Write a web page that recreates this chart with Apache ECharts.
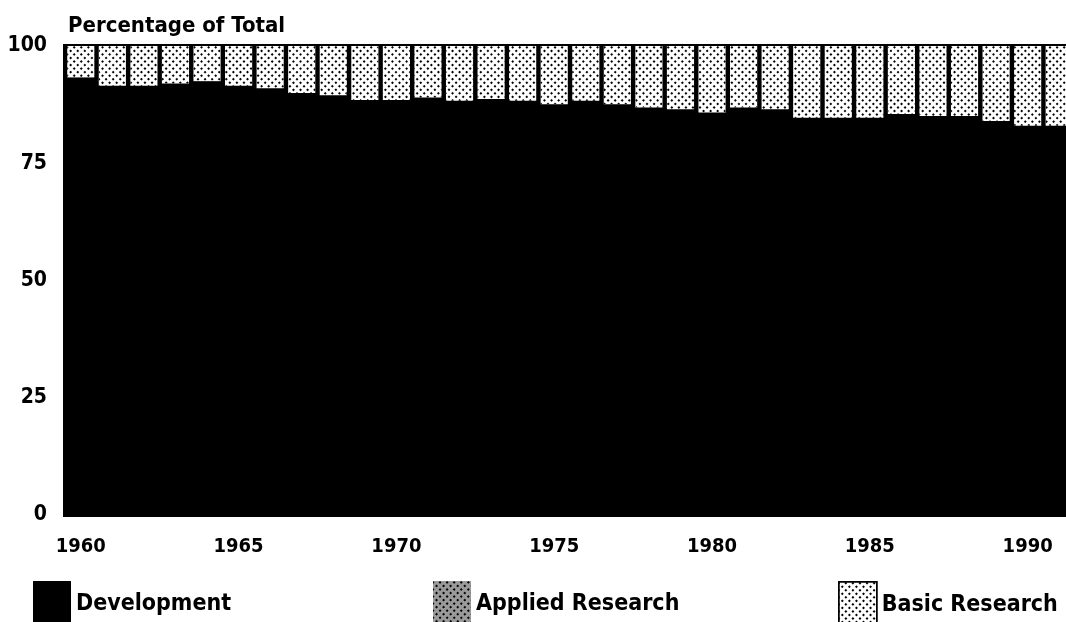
<!DOCTYPE html>
<html>
<head>
<meta charset="utf-8">
<script src="https://cdn.jsdelivr.net/npm/echarts@6/dist/echarts.min.js"></script>
<style>
  html, body { margin: 0; padding: 0; background: #ffffff; overflow: hidden; }
  /* a bit wider than the window: the last bar is cut off at the right edge */
  #chart { width: 1090px; height: 622px; }
</style>
</head>
<body>
<div id="chart"></div>
<script>
  // years on the x axis
  var years = ['1960','1961','1962','1963','1964','1965','1966','1967','1968','1969',
               '1970','1971','1972','1973','1974','1975','1976','1977','1978','1979',
               '1980','1981','1982','1983','1984','1985','1986','1987','1988','1989',
               '1990','1991'];
  var xLabels = ['1960','1965','1970','1975','1980','1985','1990'];
  var yTicks = [0, 25, 50, 75, 100];

  // percentage of total
  var development = [93.3, 91.5, 91.5, 92.0, 92.5, 91.5, 91.0, 90.0, 89.5, 88.5,
                     88.5, 89.0, 88.3, 88.7, 88.3, 87.6, 88.3, 87.6, 86.9, 86.5,
                     85.8, 86.9, 86.5, 84.7, 84.7, 84.7, 85.5, 85.1, 85.1, 84.0,
                     83.0, 83.0];
  var appliedResearch = [];   // not distinguishable from development in the scan
  var basicResearch = [6.7, 8.5, 8.5, 8.0, 7.5, 8.5, 9.0, 10.0, 10.5, 11.5,
                       11.5, 11.0, 11.7, 11.3, 11.7, 12.4, 11.7, 12.4, 13.1, 13.5,
                       14.2, 13.1, 13.5, 15.3, 15.3, 15.3, 14.5, 14.9, 14.9, 16.0,
                       17.0, 17.0];

  // halftone look of the light bars
  var stipple = {
    symbol: 'rect',
    symbolSize: 1,
    color: '#000',
    dashArrayX: [2, 3],
    dashArrayY: [2, 3],
    rotation: Math.PI / 4
  };

  var font = '"Liberation Sans Narrow", "DejaVu Sans Condensed", "Open Sans", sans-serif';
  var textBase = { color: '#000', fontFamily: font, fontWeight: 'bold' };

  var myChart = echarts.init(document.getElementById('chart'));
  var option = {
    animation: false,
    backgroundColor: '#ffffff',
    title: {
      text: 'Percentage of Total',
      left: 63,
      top: 10,
      textStyle: Object.assign({ fontSize: 22 }, textBase)
    },
    legend: [
      { data: [{ name: 'Development', itemStyle: { color: '#000' } }],
        left: 28, top: 576 },
      { data: [{ name: 'Applied Research', itemStyle: { color: '#9a9a9a', decal: stipple } }],
        left: 428, top: 576 },
      { data: [{ name: 'Basic Research', itemStyle: { color: '#fff', borderColor: '#000', borderWidth: 1.5 } }],
        left: 833, top: 576 }
    ].map(function (l) {
      l.icon = 'rect';
      l.itemWidth = 38;
      l.itemHeight = 46;
      l.itemGap = 0;
      l.itemStyle = {};
      l.selectedMode = false;
      l.textStyle = Object.assign({ fontSize: 23, padding: [16, 0, 0, 0] }, textBase);
      return l;
    }),
    grid: {
      left: 65,
      width: 1010,
      top: 46,
      bottom: 107,
      show: true,
      backgroundColor: '#000',
      borderColor: '#000',
      borderWidth: 4
    },
    xAxis: {
      type: 'category',
      data: years,
      axisLine: { show: false },
      axisTick: { show: false },
      axisLabel: Object.assign({
        margin: 22,
        interval: 0,
        fontSize: 20,
        formatter: function (v) { return xLabels.indexOf(v) >= 0 ? v : ''; }
      }, textBase)
    },
    yAxis: {
      type: 'value',
      min: yTicks[0],
      max: yTicks[yTicks.length - 1],
      interval: 25,
      splitLine: { show: false },
      axisLine: { show: false },
      axisTick: { show: false },
      axisLabel: Object.assign({ margin: 18, fontSize: 21 }, textBase)
    },
    series: [
      {
        name: 'Development',
        type: 'bar',
        stack: 'total',
        barCategoryGap: '14%',
        itemStyle: { color: '#000' },
        data: development
      },
      {
        name: 'Applied Research',
        type: 'bar',
        stack: 'total',
        itemStyle: { color: '#0a0a0a' },
        data: appliedResearch
      },
      {
        name: 'Basic Research',
        type: 'bar',
        stack: 'total',
        itemStyle: { color: '#ffffff', decal: stipple },
        data: basicResearch
      }
    ]
  };
  myChart.setOption(option);
</script>
</body>
</html>
